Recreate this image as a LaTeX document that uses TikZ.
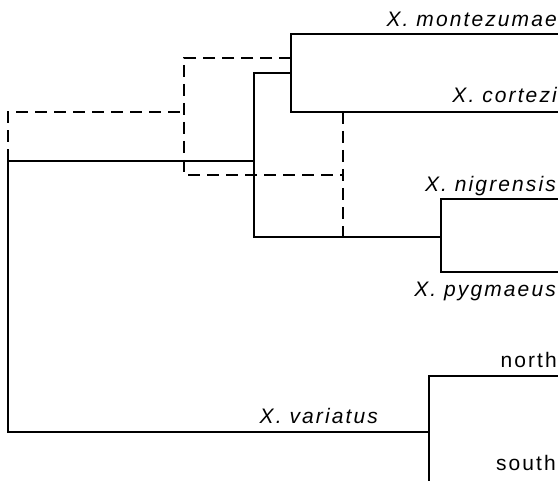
\documentclass[tikz,border=0pt]{standalone}
\usepackage{fontspec}
\setmainfont{Liberation Sans}[LetterSpace=10]
\begin{document}
\begin{tikzpicture}[x=1pt,y=-1pt,
  branch/.style={line width=2.8pt,line cap=rect,line join=miter},
  alt/.style={line width=2.8pt,dash pattern=on 12pt off 7pt},
  taxon/.style={inner sep=0pt,font=\fontsize{21}{24}\selectfont\itshape,anchor=base east},
  pop/.style={inner sep=0pt,font=\fontsize{21}{24}\selectfont,anchor=base east}]
\useasboundingbox (0,0) rectangle (559,481);

% junctions of the tree
\coordinate (r0) at (8,161);
\coordinate (r1) at (8,432);
\coordinate (a0) at (254,161);
\coordinate (a1) at (254,73);
\coordinate (a2) at (254,237);
\coordinate (b0) at (291,73);
\coordinate (b1) at (291,34);
\coordinate (b2) at (291,112);
\coordinate (t1) at (557,34);
\coordinate (t2) at (557,112);
\coordinate (c0) at (441,237);
\coordinate (c1) at (441,199);
\coordinate (c2) at (441,272);
\coordinate (t3) at (557,199);
\coordinate (t4) at (557,272);
\coordinate (v0) at (429,432);
\coordinate (v1) at (429,376);
\coordinate (v2) at (429,481);
\coordinate (t5) at (557,376);

% alternative (dashed) placement
\coordinate (d0) at (8,112);
\coordinate (d1) at (184,112);
\coordinate (d2) at (184,58);
\coordinate (d3) at (184,175);
\coordinate (d4) at (291,58);
\coordinate (d5) at (343,175);
\coordinate (d6) at (343,112);
\coordinate (d7) at (343,237);

% solid tree
\draw[branch] (r1) -- (r0) -- (a0);
\draw[branch] (a1) -- (a2) -- (c0);
\draw[branch] (a1) -- (b0);
\draw[branch] (t1) -- (b1) -- (b2) -- (t2);
\draw[branch] (t3) -- (c1) -- (c2) -- (t4);
\draw[branch] (r1) -- (v0);
\draw[branch] (t5) -- (v1) -- (v2);

% dashed links
\draw[alt] (r0) -- (d0) -- (d1);
\draw[alt] (d4) -- (d2) -- (d3) -- (d5);
\draw[alt] (d6) -- (d7);

% labels
\node[taxon] (mont) at (557,27) {X. montezumae};
\node[taxon] (cort) at (557,103) {X. cortezi};
\node[taxon] (nigr) at (556,191) {X. nigrensis};
\node[taxon] (pygm) at (556,296) {X. pygmaeus};
\node[taxon] (vari) at (378,423) {X. variatus};
\node[pop] (north) at (557,367) {north};
\node[pop] (south) at (556,470) {south};
\end{tikzpicture}
\end{document}
